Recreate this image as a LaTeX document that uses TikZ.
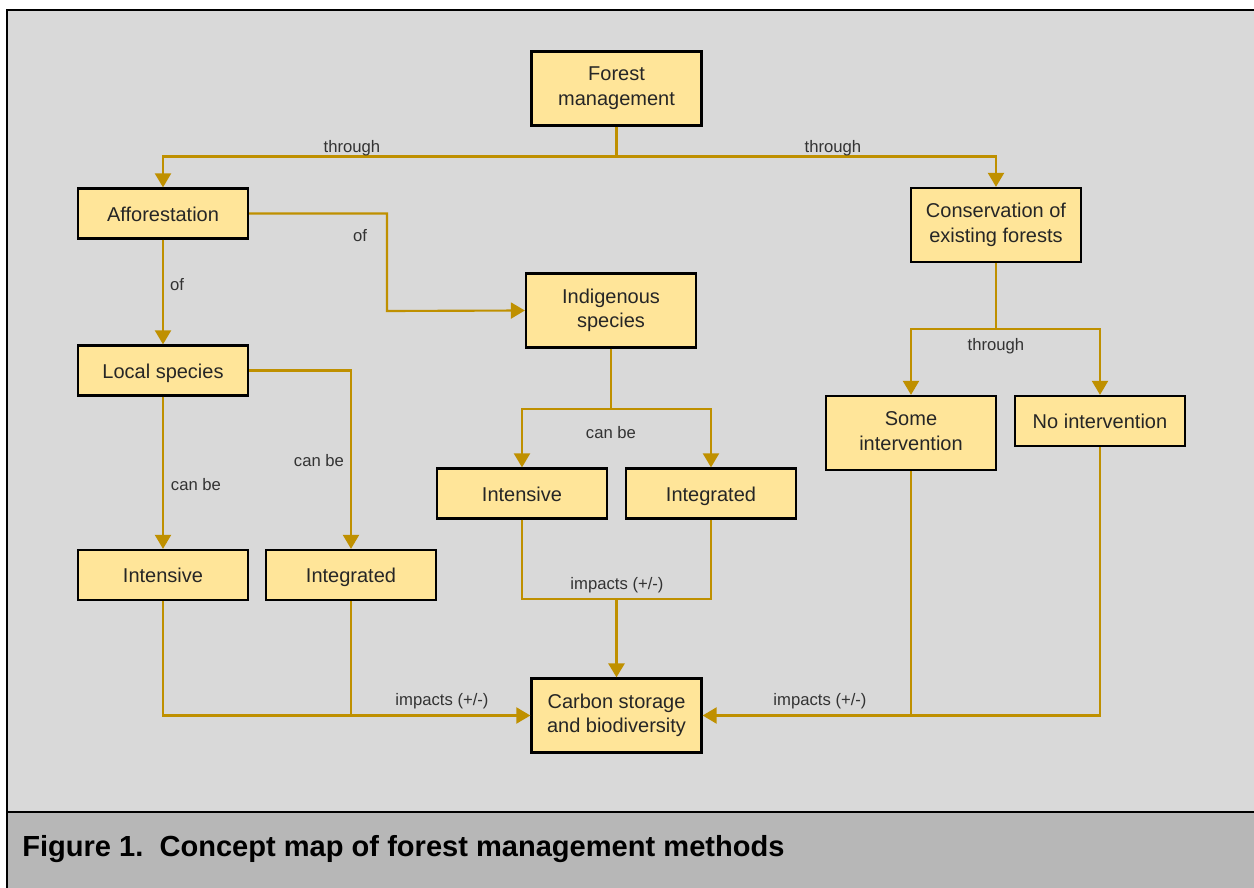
\documentclass[tikz,border=0pt]{standalone}
\usepackage{fontspec}
\setmainfont{Liberation Sans}
\usepackage{tikz}
\usetikzlibrary{positioning, arrows.meta, calc}

\definecolor{boxfill}{HTML}{FFE599}
\definecolor{linkcol}{HTML}{BF9000}
\definecolor{panel}{HTML}{D9D9D9}
\definecolor{capbar}{HTML}{B7B7B7}
\newcommand{\boxstrut}{\rule[-3.4pt]{0pt}{18.6pt}}
\newcommand{\tallstrut}{\rule[-3.4pt]{0pt}{23.1pt}}

\begin{document}
\begin{tikzpicture}[x=.75pt, y=-.75pt,
    concept/.style={draw=black, line width=1.7pt, fill=boxfill, align=center,
        minimum width=127.5pt, minimum height=37.5pt, inner sep=2pt,
        font=\fontsize{15}{18.5}\selectfont, text=black!85,
        execute at begin node=\boxstrut, execute at end node=\boxstrut},
    tallconcept/.style={concept, minimum height=55.5pt, execute at begin node=\tallstrut},
    link/.style={draw=linkcol, line width=1.6pt},
    arrow/.style={link, -{Triangle[length=10.5pt, width=12pt]}},
    linklabel/.style={font=\fontsize{12.5}{15}\selectfont, text=black!80, inner sep=1pt}
    ]
\useasboundingbox (0,0) rectangle (1254,888);
\fill[white] (0,0) rectangle (1254,888);
\fill[panel] (7,10) rectangle (1254,812);
\fill[capbar] (7,812) rectangle (1254,888);
\draw[line width=2.2pt] (7,888) -- (7,10) -- (1254,10);
\draw[line width=2.2pt] (7,812) -- (1254,812);
\node[anchor=west, inner sep=0pt, font=\bfseries\fontsize{21.8}{26}\selectfont] (caption) at (22,849)
    {Figure 1.\ \ Concept map of forest management methods};

% concepts
\node[tallconcept] (forest) at (616.5,88.5) {Forest\\management};
\node[concept] (affor) at (163,213.5) {Afforestation};
\node[tallconcept] (conserv) at (996,225) {Conservation of\\existing forests};
\node[tallconcept] (indig) at (611,310.5) {Indigenous\\species};
\node[concept] (local) at (163,370.5) {Local species};
\node[tallconcept] (someint) at (911,433) {Some\\intervention};
\node[concept] (noint) at (1100,421) {No intervention};
\node[concept] (indint) at (522,493.5) {Intensive};
\node[concept] (indintg) at (711,493.5) {Integrated};
\node[concept] (locint) at (163,575) {Intensive};
\node[concept] (locintg) at (351,575) {Integrated};
\node[tallconcept] (carbon) at (616.5,715.5) {Carbon storage\\and biodiversity};

% junctions
\coordinate (fsplit) at (616.5,156.5);
\coordinate (abend) at (387,311);
\coordinate (isplit) at (611,409);
\coordinate (csplit) at (996,329);
\coordinate (imerge) at (616.5,599);

% connectors
\draw[link] (forest.south) -- (fsplit);
\draw[arrow] (fsplit) -| (affor.north);
\draw[arrow] (fsplit) -| (conserv.north);
\draw[arrow] (affor.south) -- (local.north);
\draw[arrow] (affor.east) -| (abend) -- (indig.west);
\draw[arrow] (local.south) -- (locint.north);
\draw[arrow] (local.east) -| (locintg.north);
\draw[link] (indig.south) -- (isplit);
\draw[arrow] (isplit) -| (indint.north);
\draw[arrow] (isplit) -| (indintg.north);
\draw[link] (conserv.south) -- (csplit);
\draw[arrow] (csplit) -| (someint.north);
\draw[arrow] (csplit) -| (noint.north);
\draw[link] (indint.south) |- (imerge) -| (indintg.south);
\draw[arrow, line width=2.1pt] (imerge) -- (carbon.north);
\draw[arrow] (locint.south) |- (carbon.west);
\draw[link] (locintg.south) -- (locintg.south |- carbon.west);
\draw[arrow] (noint.south) |- (carbon.east);
\draw[link] (someint.south) -- (someint.south |- carbon.east);

% connector labels
\node[linklabel] (lthr1) at (352,148) {through};
\node[linklabel] (lthr2) at (833,148) {through};
\node[linklabel] (lof1) at (177,285) {of};
\node[linklabel] (lof2) at (360,236) {of};
\node[linklabel] (lcan1) at (196,485) {can be};
\node[linklabel] (lcan2) at (319,461) {can be};
\node[linklabel] (lcan3) at (611,433) {can be};
\node[linklabel] (lthr3) at (996,346) {through};
\node[linklabel] (limp1) at (617,585) {impacts (+/-)};
\node[linklabel] (limp2) at (442,701) {impacts (+/-)};
\node[linklabel] (limp3) at (820,701) {impacts (+/-)};
\end{tikzpicture}
\end{document}
